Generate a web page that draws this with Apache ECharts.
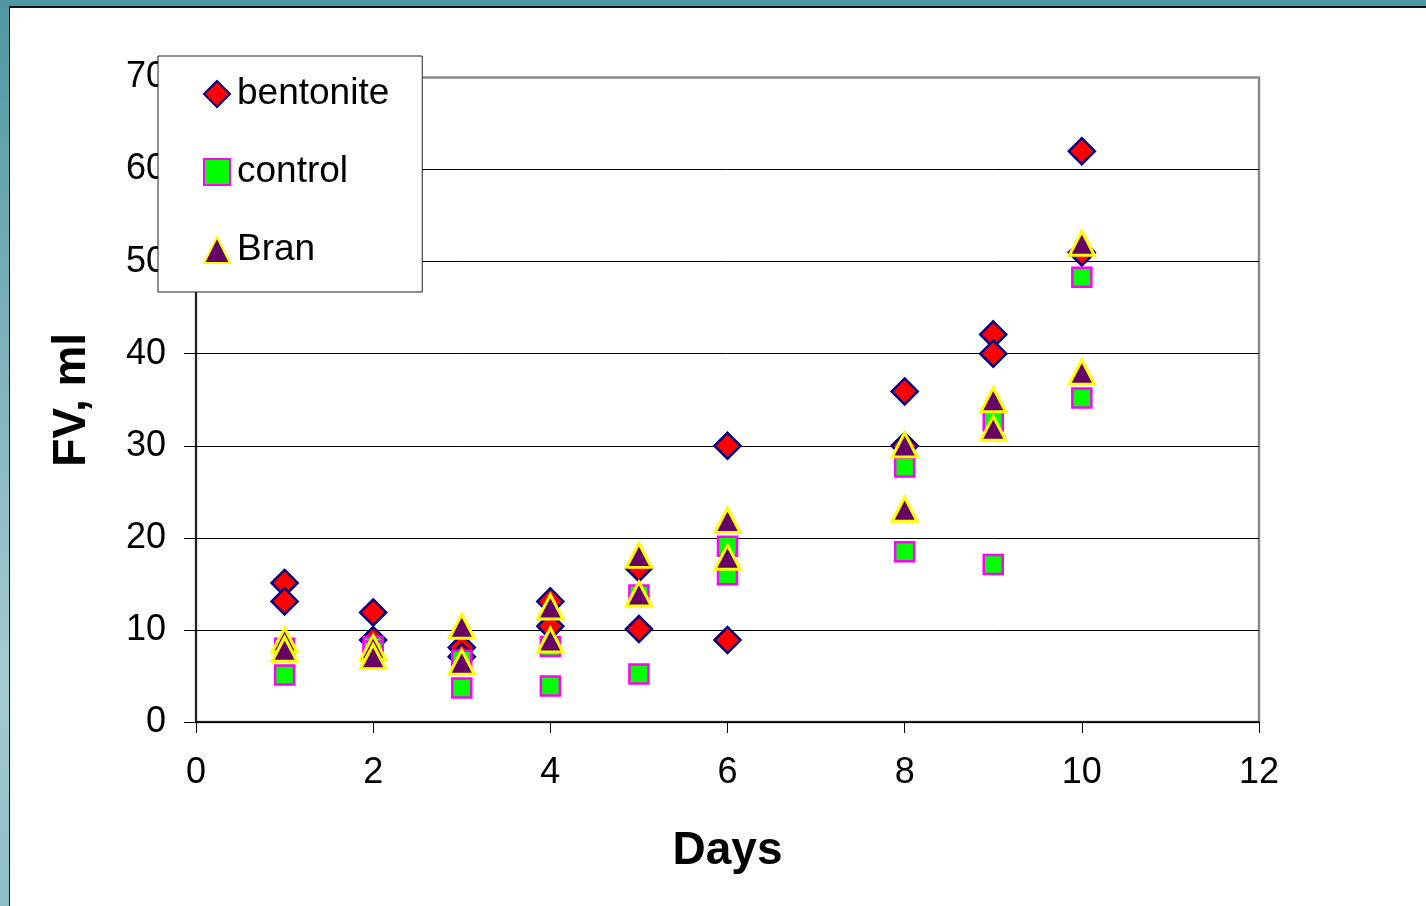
<!DOCTYPE html>
<html>
<head>
<meta charset="utf-8">
<script src="https://cdn.jsdelivr.net/npm/echarts@6/dist/echarts.min.js"></script>
<style>
html, body { margin: 0; padding: 0; }
body {
    width: 1426px; height: 906px; overflow: hidden; position: relative;
    background: linear-gradient(180deg, #4f97a3 0%, #7fb3bd 40%, #a3cbd2 75%, #8dbec7 100%);
}
#panel {
    position: absolute; left: 9px; top: 6px; right: 0; bottom: 0;
    background: #fff; border-left: 1px solid #111; border-top: 2px solid #111;
}
#chart { position: absolute; left: 0; top: 0; width: 1426px; height: 906px; }
</style>
</head>
<body>
<div id="panel"></div>
<div id="chart"></div>
<script>
// days for each measurement (two per day)
var days = [1, 1, 2, 2, 3, 3, 4, 4, 5, 5, 6, 6, 8, 8, 9, 9, 10, 10];
var bentonite = [15.1, 13.1, 11.9, 8.9, 8.1, 7.1, 13.1, 10.4, 16.7, 10.1, 30, 8.9, 35.9, 30, 42.1, 40, 62, 51];
var control = [8, 5.1, 8.2, 7.7, 6.7, 3.7, 8.2, 3.9, 13.8, 5.2, 19.1, 16, 27.7, 18.5, 32.7, 17.1, 48.3, 35.2];
var bran = [8.9, 7.9, 8.1, 7.1, 10.4, 6.5, 12.5, 8.9, 18.1, 13.9, 21.9, 17.9, 30.1, 23.1, 35, 31.9, 52, 38];
var xTicks = [0, 2, 4, 6, 8, 10, 12];

function pairs(vals) {
    return vals.map(function (v, i) { return [days[i], v]; });
}

var font = '"Liberation Sans", Arial, sans-serif';
var myChart = echarts.init(document.getElementById('chart'));

var option = {
    animation: false,
    backgroundColor: 'transparent',
    textStyle: { fontFamily: font },
    grid: {
        left: 196,
        right: 167,
        top: 77.5,
        bottom: 184,
        show: true,
        borderColor: '#8a8a8a',
        borderWidth: 2.5,
        backgroundColor: 'transparent'
    },
    legend: {
        orient: 'vertical',
        left: 158,
        top: 56,
        padding: [18, 33, 22, 45],
        itemGap: 38,
        itemWidth: 26,
        itemHeight: 26,
        backgroundColor: '#fff',
        borderColor: '#222',
        borderWidth: 1,
        borderRadius: 0,
        z: 10,
        textStyle: {
            fontFamily: font,
            fontSize: 37,
            color: '#000',
            lineHeight: 40,
            padding: [0, 0, 0, 2]
        },
        data: ['bentonite', 'control', 'Bran']
    },
    xAxis: {
        type: 'value',
        min: 0,
        max: 12,
        interval: 2,
        name: 'Days',
        nameLocation: 'middle',
        nameGap: 106,
        nameTextStyle: { fontFamily: font, fontSize: 46, fontWeight: 'bold', color: '#000' },
        axisLine: { onZero: false, lineStyle: { color: '#000', width: 1.5 } },
        axisTick: { show: true, length: 11, lineStyle: { color: '#000', width: 1 } },
        axisLabel: {
            fontFamily: font, fontSize: 36, color: '#000', margin: 33,
            formatter: function (v) { return xTicks.indexOf(v) >= 0 ? String(v) : ''; }
        },
        splitLine: { show: false }
    },
    yAxis: {
        type: 'value',
        min: 0,
        max: 70,
        interval: 10,
        name: 'FV, ml',
        nameLocation: 'middle',
        nameGap: 101,
        nameTextStyle: { fontFamily: font, fontSize: 46, fontWeight: 'bold', color: '#000' },
        axisLine: { show: true, lineStyle: { color: '#000', width: 1.5 } },
        axisTick: { show: true, length: 12, lineStyle: { color: '#000', width: 1 } },
        axisLabel: { fontFamily: font, fontSize: 36, color: '#000', margin: 30 },
        splitLine: {
            show: true,
            lineStyle: { color: ['#000', '#000', '#000', '#000', '#000', '#000', '#000', '#8a8a8a'], width: 1 }
        }
    },
    series: [{
        name: 'bentonite',
        type: 'scatter',
        symbol: 'diamond',
        symbolSize: 26,
        itemStyle: { color: '#ff0000', borderColor: '#000080', borderWidth: 2.5, opacity: 1 },
        data: pairs(bentonite)
    }, {
        name: 'control',
        type: 'scatter',
        symbol: 'rect',
        symbolSize: 19,
        itemStyle: { color: '#00ff00', borderColor: '#ff00ff', borderWidth: 2.5, opacity: 1 },
        data: pairs(control)
    }, {
        name: 'Bran',
        type: 'scatter',
        symbol: 'triangle',
        symbolSize: [25, 24],
        itemStyle: { color: '#660066', borderColor: '#ffff00', borderWidth: 3, opacity: 1 },
        data: pairs(bran)
    }]
};
option && myChart.setOption(option);
</script>
</body>
</html>
